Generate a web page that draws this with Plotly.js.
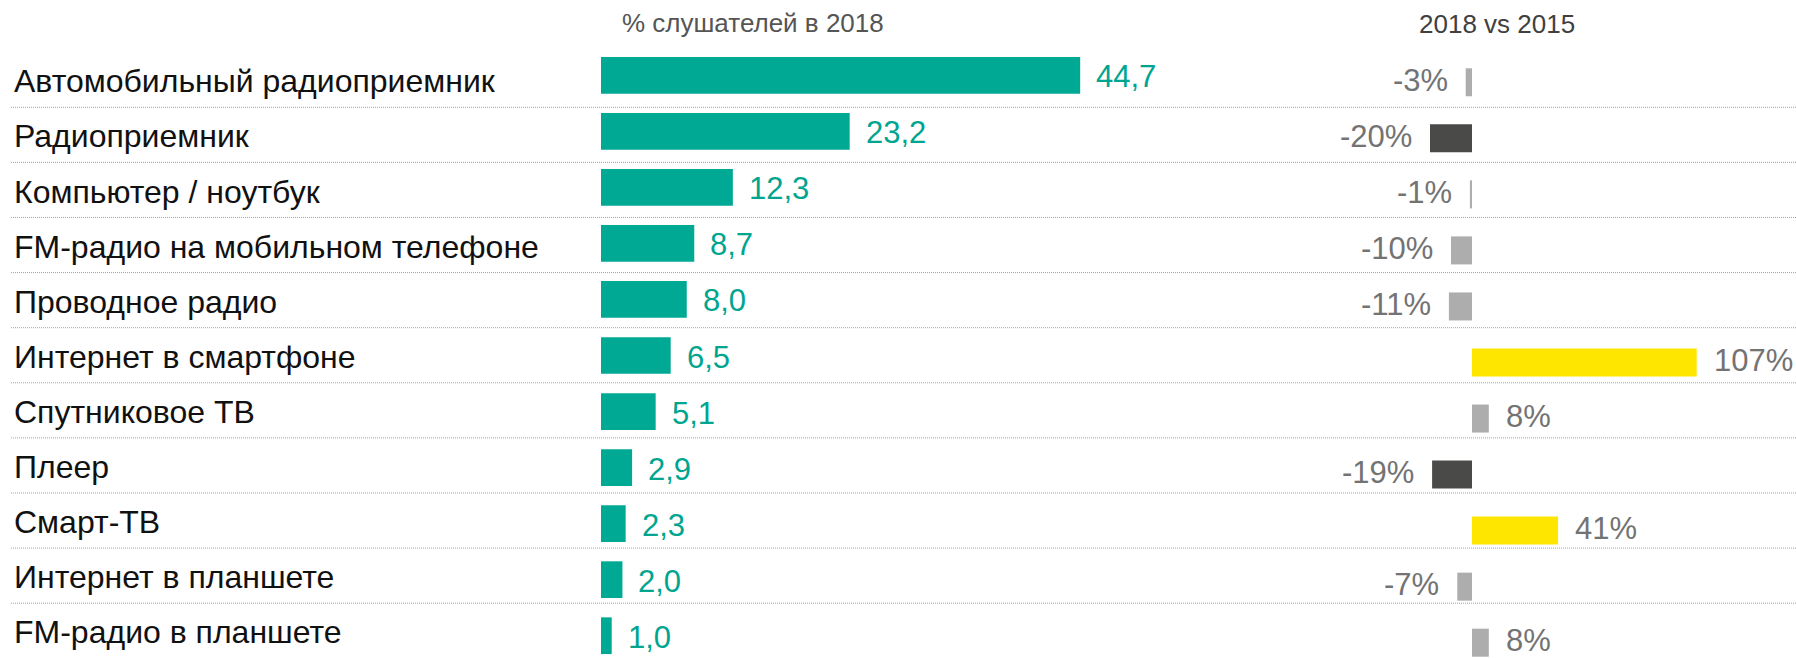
<!DOCTYPE html>
<html>
<head>
<meta charset="utf-8">
<script src="https://cdn.plot.ly/plotly-3.0.1.min.js"></script>
<style>html,body{margin:0;padding:0;background:#fff}#chart{width:1796px;height:658px}</style>
</head>
<body>
<div id="chart"></div>
<script>
// ---- data ----
const categories = [
  "Автомобильный радиоприемник",
  "Радиоприемник",
  "Компьютер / ноутбук",
  "FM-радио на мобильном телефоне",
  "Проводное радио",
  "Интернет в смартфоне",
  "Спутниковое ТВ",
  "Плеер",
  "Смарт-ТВ",
  "Интернет в планшете",
  "FM-радио в планшете"
];
const share2018 = [44.7, 23.2, 12.3, 8.7, 8.0, 6.5, 5.1, 2.9, 2.3, 2.0, 1.0];
const change2018vs2015 = [-3, -20, -1, -10, -11, 107, 8, -19, 41, -7, 8];
const leftTitle = "% слушателей в 2018";
const rightTitle = "2018 vs 2015";

// ---- layout geometry (pixels) ----
const W = 1796, H = 658;
const rowPitch = 56.04, row0 = 75.3;         // bar grid
const linePitch = 55.1, line0 = 107.3;       // separator / label grid
const leftZero = 601, leftScale = 10.72, leftEnd = 1257;
const rightZero = 1472, rightScale = 2.1, rightStart = 1400;
const FONT = "Liberation Sans, Arial, sans-serif";
const teal = "#00a994", tealText = "#00a58f";

const pxToY = px => (px - row0) / rowPitch;
const fmtComma = v => v.toFixed(1).replace(".", ",");
const changeColor = v => v <= -15 ? "#4a4a48" : (v >= 15 ? "#ffe600" : "#adadad");

const traces = [
  {
    type: "bar", orientation: "h",
    y: categories, x: share2018,
    xaxis: "x", yaxis: "y",
    width: 36.7 / rowPitch,
    marker: {color: teal, line: {width: 0}},
    hoverinfo: "skip"
  },
  {
    type: "bar", orientation: "h",
    y: categories, x: change2018vs2015,
    xaxis: "x2", yaxis: "y",
    width: 28 / rowPitch,
    offset: -0.125,
    marker: {color: change2018vs2015.map(changeColor), line: {width: 0}},
    hoverinfo: "skip"
  }
];

const annotations = [];
categories.forEach((c, i) => {
  annotations.push({
    xref: "paper", x: 12 / W, xanchor: "left",
    yref: "y", y: pxToY(line0 + linePitch * i - 26), yanchor: "middle",
    text: c, showarrow: false,
    font: {family: FONT, size: 32, color: "#111111"}
  });
  annotations.push({
    xref: "x", x: share2018[i], xanchor: "left", xshift: 14,
    yref: "y", y: c, yanchor: "middle", yshift: -1.5,
    text: fmtComma(share2018[i]), showarrow: false,
    font: {family: FONT, size: 31, color: tealText}
  });
  const v = change2018vs2015[i];
  annotations.push({
    xref: "x2", x: v, xanchor: v < 0 ? "right" : "left", xshift: v < 0 ? -16 : 15,
    yref: "y", y: c, yanchor: "middle", yshift: -5,
    text: v + "%", showarrow: false,
    font: {family: FONT, size: 31, color: "#737373"}
  });
});
annotations.push({
  xref: "paper", x: 752.5 / W, xanchor: "center",
  yref: "paper", y: 1 - 22.8 / H, yanchor: "middle",
  text: leftTitle, showarrow: false,
  font: {family: FONT, size: 26, color: "#555555"}
});
annotations.push({
  xref: "paper", x: 1497 / W, xanchor: "center",
  yref: "paper", y: 1 - 24.2 / H, yanchor: "middle",
  text: rightTitle, showarrow: false,
  font: {family: FONT, size: 26, color: "#404040"}
});

const shapes = [];
for (let k = 0; k < categories.length - 1; k++) {
  const yy = pxToY(line0 + linePitch * k);
  shapes.push({
    type: "line", xref: "paper", x0: 11 / W, x1: 1,
    yref: "y", y0: yy, y1: yy,
    line: {color: "#a3a3a3", width: 1, dash: "1px,1px"}
  });
}

const hidden = {showgrid: false, zeroline: false, showticklabels: false, showline: false, ticks: "", fixedrange: true};
const layout = {
  width: W, height: H,
  margin: {l: 0, r: 0, t: 0, b: 0, pad: 0},
  paper_bgcolor: "#ffffff", plot_bgcolor: "#ffffff",
  showlegend: false, barmode: "overlay",
  font: {family: FONT},
  xaxis: Object.assign({}, hidden, {
    domain: [leftZero / W, leftEnd / W],
    range: [0, (leftEnd - leftZero) / leftScale], anchor: "y"
  }),
  xaxis2: Object.assign({}, hidden, {
    domain: [rightStart / W, 1],
    range: [(rightStart - rightZero) / rightScale, (W - rightZero) / rightScale], anchor: "y"
  }),
  yaxis: Object.assign({}, hidden, {
    type: "category", categoryorder: "array", categoryarray: categories,
    range: [pxToY(H), pxToY(0)]
  }),
  annotations: annotations,
  shapes: shapes
};

Plotly.newPlot("chart", traces, layout, {displayModeBar: false, staticPlot: true});
</script>
</body>
</html>
